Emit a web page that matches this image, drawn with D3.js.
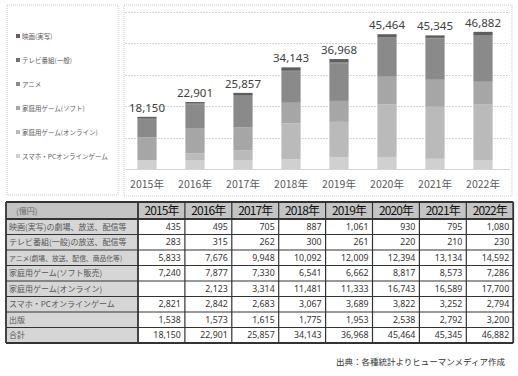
<!DOCTYPE html>
<html>
<head>
<meta charset="utf-8">
<script src="https://d3js.org/d3.v7.min.js"></script>
<style>
  body { margin: 0; background: #fff; }
  text { font-family: "Noto Sans CJK JP", "Noto Sans", sans-serif; }
  .num { font-family: "Noto Sans", "Open Sans", sans-serif; }
</style>
</head>
<body>
<script>
// data
let years = ["2015年", "2016年", "2017年", "2018年", "2019年", "2020年", "2021年", "2022年"];
let movie      = [435, 495, 705, 887, 1061, 930, 795, 1080];
let tv         = [283, 315, 262, 300, 261, 220, 210, 230];
let anime      = [5833, 7676, 9948, 10092, 12009, 12394, 13134, 14592];
let gameSoft   = [7240, 7877, 7330, 6541, 6662, 8817, 8573, 7286];
let gameOnline = [null, 2123, 3314, 11481, 11333, 16743, 16589, 17700];
let mobile     = [2821, 2842, 2683, 3067, 3689, 3822, 3252, 2794];
let publishing = [1538, 1573, 1615, 1775, 1953, 2538, 2792, 3200];
let totals     = [18150, 22901, 25857, 34143, 36968, 45464, 45345, 46882];

let legendLabels = ["映画(実写)", "テレビ番組(一般)", "アニメ", "家庭用ゲーム(ソフト)", "家庭用ゲーム(オンライン)", "スマホ・PCオンラインゲーム"];
let tableLabels = ["映画(実写)の劇場、放送、配信等", "テレビ番組(一般)の放送、配信等", "アニメ(劇場、放送、配信、商品化等)",
                   "家庭用ゲーム(ソフト販売)", "家庭用ゲーム(オンライン)", "スマホ・PCオンラインゲーム", "出版", "合計"];
let tableRows = [movie, tv, anime, gameSoft, gameOnline, mobile, publishing, totals];
let yTicks = [0, 10000, 20000, 30000, 40000, 50000];

let width = 518, height = 376;
let svg = d3.select("body").append("svg")
    .attr("width", width).attr("height", height);

// stacked bars, bottom -> top (publishing is not stacked)
let keys = ["mobile", "gameOnline", "gameSoft", "anime", "tv", "movie"];
let colors = {mobile: "#d0d0d0", gameOnline: "#bababa", gameSoft: "#a6a6a6", anime: "#8a8a8a", tv: "#707070", movie: "#5e5e5e"};
let rows = years.map(function (y, i) {
  return {year: y, movie: movie[i], tv: tv[i], anime: anime[i], gameSoft: gameSoft[i],
          gameOnline: gameOnline[i] || 0, mobile: mobile[i], total: totals[i]};
});
let series = d3.stack().keys(keys)(rows);

let x = d3.scaleBand().domain(years).range([123, 507]).paddingInner(0.6).paddingOuter(0.3);
let y = d3.scaleLinear().domain([0, 50000]).range([169, 12]);

// panels
svg.append("rect").attr("x", 7).attr("y", 5).attr("width", 111).attr("height", 190)
  .attr("fill", "none").attr("stroke", "#c8c8c8").attr("stroke-dasharray", "1,1");
svg.append("rect").attr("x", 124).attr("y", 5).attr("width", 388).attr("height", 191)
  .attr("fill", "none").attr("stroke", "#c8c8c8").attr("stroke-dasharray", "1,1");

// grid
svg.append("g").selectAll("line").data(yTicks).enter().append("line")
  .attr("x1", 125).attr("x2", 510)
  .attr("y1", function (d) { return Math.round(y(d)) + 0.5; })
  .attr("y2", function (d) { return Math.round(y(d)) + 0.5; })
  .attr("stroke", "#d4d4d4").attr("stroke-dasharray", function (d) { return d === 0 ? null : "2,1"; });

// bars
svg.append("g").selectAll("g").data(series).enter().append("g")
  .attr("fill", function (d) { return colors[d.key]; })
  .selectAll("rect").data(function (d) { return d; }).enter().append("rect")
  .attr("x", function (d) { return x(d.data.year); })
  .attr("width", x.bandwidth())
  .attr("y", function (d) { return y(d[1]); })
  .attr("height", function (d) { return y(d[0]) - y(d[1]); });

// total labels
let topSeries = series[series.length - 1];
svg.append("g").selectAll("text").data(topSeries).enter().append("text")
  .attr("class", "num")
  .attr("x", function (d) { return x(d.data.year) + x.bandwidth() / 2; })
  .attr("y", function (d) { return y(d[1]) - 5; })
  .attr("text-anchor", "middle").attr("font-size", "11.5px").attr("fill", "#404040")
  .text(function (d) { return d3.format(",")(d.data.total); });

// x axis labels
svg.append("g").selectAll("text").data(years).enter().append("text")
  .attr("x", function (d) { return x(d) + x.bandwidth() / 2; })
  .attr("y", 188)
  .attr("text-anchor", "middle").attr("font-size", "10.5px").attr("fill", "#595959")
  .text(function (d) { return d; });

// legend
let legKeys = ["movie", "tv", "anime", "gameSoft", "gameOnline", "mobile"];
let leg = svg.append("g").selectAll("g").data(legendLabels).enter().append("g")
  .attr("transform", function (d, i) { return "translate(16," + (36 + i * 24) + ")"; });
leg.append("rect").attr("x", 0).attr("y", -2).attr("width", 4).attr("height", 4)
  .attr("fill", function (d, i) { return colors[legKeys[i]]; });
leg.append("text").attr("x", 6).attr("y", 2.5).attr("font-size", "6.5px").attr("fill", "#595959")
  .text(function (d) { return d; });

// table
let tx0 = 6, labelW = 132, colW = 46.9, ty0 = 202, headH = 17, rowH = 15.5;
let tx = d3.scaleBand().domain(years).range([tx0 + labelW, tx0 + labelW + colW * years.length]);
let ty = d3.scaleBand().domain(d3.range(tableLabels.length)).range([ty0 + headH, ty0 + headH + rowH * tableLabels.length]);
let tRight = tx0 + labelW + colW * years.length, tBottom = ty0 + headH + rowH * tableLabels.length;

let table = svg.append("g");
// backgrounds
table.append("rect").attr("x", tx0).attr("y", ty0).attr("width", tRight - tx0).attr("height", headH).attr("fill", "#c4c4c4");
table.append("rect").attr("x", tx0).attr("y", ty0 + headH).attr("width", labelW).attr("height", tBottom - ty0 - headH).attr("fill", "#d6d6d6");

// header
table.append("text").attr("x", 16).attr("y", ty0 + headH / 2 + 3).attr("font-size", "8px").attr("fill", "#666").text("(億円)");
table.selectAll(".yh").data(years).enter().append("text")
  .attr("x", function (d) { return tx(d) + tx.bandwidth() / 2; })
  .attr("y", ty0 + headH / 2 + 4.5)
  .attr("text-anchor", "middle").attr("font-size", "12px").attr("letter-spacing", "-0.9px").attr("fill", "#111")
  .text(function (d) { return d; });

// row labels
table.selectAll(".rl").data(tableLabels).enter().append("text")
  .attr("x", 9)
  .attr("y", function (d, i) { return ty(i) + rowH / 2 + 3; })
  .attr("font-size", function (d, i) { return i === 2 ? "6.8px" : "8px"; })
  .attr("fill", "#555")
  .text(function (d) { return d; });

// values
tableRows.forEach(function (vals, r) {
  table.selectAll(".v" + r).data(vals).enter().append("text")
    .attr("class", "num")
    .attr("x", function (d, i) { return tx(years[i]) + tx.bandwidth() - 4; })
    .attr("y", ty(r) + rowH / 2 + 3.2)
    .attr("text-anchor", "end").attr("font-size", "8.8px").attr("fill", "#333")
    .text(function (d) { return d == null ? "" : d3.format(",")(d); });
});

// grid lines of the table
let hl = [ty0].concat(d3.range(tableLabels.length + 1).map(function (i) { return ty0 + headH + i * rowH; }));
table.selectAll(".hl").data(hl).enter().append("line")
  .attr("x1", tx0).attr("x2", tRight)
  .attr("y1", function (d) { return d; }).attr("y2", function (d) { return d; })
  .attr("stroke", "#333").attr("stroke-width", function (d, i) { return (i === 0 || i === 1 || i === hl.length - 1) ? 1.8 : 1.2; });
let vl = [tx0].concat(years.map(function (d) { return tx(d); })).concat([tRight]);
table.selectAll(".vl").data(vl).enter().append("line")
  .attr("y1", ty0).attr("y2", tBottom)
  .attr("x1", function (d) { return d; }).attr("x2", function (d) { return d; })
  .attr("stroke", "#333").attr("stroke-width", function (d, i) { return (i === 0 || i === 1 || i === vl.length - 1) ? 1.8 : 1.2; });

// source
svg.append("text").attr("x", 505).attr("y", 365).attr("text-anchor", "end")
  .attr("font-size", "8.5px").attr("fill", "#333")
  .text("出典：各種統計よりヒューマンメディア作成");
</script>
</body>
</html>
